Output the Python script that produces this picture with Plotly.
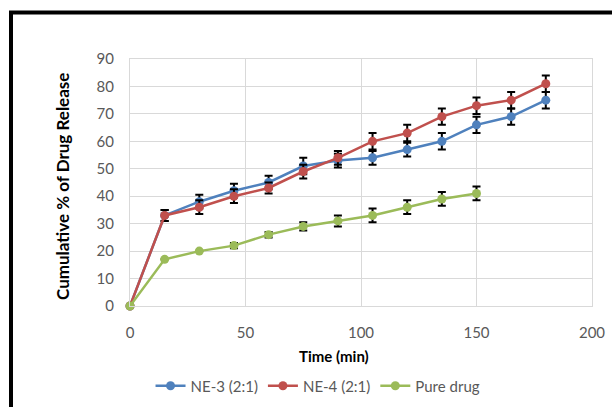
import plotly.graph_objects as go

time_ne = [0, 15, 30, 45, 60, 75, 90, 105, 120, 135, 150, 165, 180]
ne3 = [0, 33, 38, 42, 45, 51, 53, 54, 57, 60, 66, 69, 75]
ne3_err = [0, 2, 2.5, 2.5, 2.5, 3, 2.5, 2.5, 2.5, 3, 3, 3, 3]
ne4 = [0, 33, 36, 40, 43, 49, 54, 60, 63, 69, 73, 75, 81]
ne4_err = [0, 2, 2.5, 2.5, 2, 2.5, 2.5, 3, 3, 3, 3, 3, 3]
time_pure = [0, 15, 30, 45, 60, 75, 90, 105, 120, 135, 150]
pure = [0, 17, 20, 22, 26, 29, 31, 33, 36, 39, 41]
pure_err = [0, 0, 0, 1, 1, 1.5, 2, 2.5, 2.5, 2.5, 2.5]

names = ["NE-3 (2:1)", "NE-4 (2:1)", "Pure drug"]
colors = ["#4F81BD", "#C0504D", "#9BBB59"]

FONT = "Lato"
GRAY = "#595959"

fig = go.Figure()
for x, y, e, n, c in [(time_ne, ne3, ne3_err, names[0], colors[0]),
                      (time_ne, ne4, ne4_err, names[1], colors[1]),
                      (time_pure, pure, pure_err, names[2], colors[2])]:
    fig.add_trace(go.Scatter(
        x=x, y=y, name=n, mode="lines+markers",
        line=dict(color=c, width=2.5),
        marker=dict(color=c, size=9),
        error_y=dict(type="data", array=e, visible=True, color="black",
                     thickness=2, width=4),
        cliponaxis=False,
    ))

fig.update_layout(
    width=612, height=407,
    margin=dict(l=130, r=20, t=59, b=101, autoexpand=False),
    paper_bgcolor="white", plot_bgcolor="white",
    font=dict(family=FONT, size=15, color=GRAY),
    showlegend=True,
    legend=dict(orientation="h", x=0.407, xanchor="center", y=-0.324,
                yanchor="middle", font=dict(family=FONT, size=15, color=GRAY),
                bgcolor="rgba(0,0,0,0)", itemwidth=30),
    xaxis=dict(range=[0, 200], dtick=50, showgrid=True, gridcolor="#d9d9d9",
               gridwidth=1, showline=True, linecolor="#d9d9d9", linewidth=1,
               mirror=True, zeroline=False, ticks="outside", ticklen=13,
               tickcolor="rgba(0,0,0,0)", automargin=False,
               tickfont=dict(size=15, color=GRAY)),
    yaxis=dict(range=[0, 90], dtick=10, showgrid=True, gridcolor="#d9d9d9",
               gridwidth=1, showline=True, linecolor="#d9d9d9", linewidth=1,
               mirror=True, zeroline=False, ticks="outside", ticklen=12,
               tickcolor="rgba(0,0,0,0)", automargin=False,
               tickfont=dict(size=15, color=GRAY)),
    annotations=[
        dict(text="<b>Time (min)</b>", xref="paper", yref="paper",
             x=(334 - 130) / 462, y=(306 - 356) / 247, xanchor="center",
             yanchor="middle", showarrow=False,
             font=dict(family=FONT, size=15, color="black")),
        dict(text="<b>Cumulative % of Drug Release</b>", xref="paper",
             yref="paper", x=(62 - 130) / 462, y=(306 - 187) / 247,
             xanchor="center", yanchor="middle", textangle=-90,
             showarrow=False, font=dict(family=FONT, size=17, color="black")),
    ],
    shapes=[
        dict(type="rect", xref="paper", yref="paper",
             x0=(11 - 130) / 462, x1=(640 - 130) / 462,
             y0=(306 - 430) / 247, y1=(306 - 12.5) / 247,
             line=dict(color="black", width=4), fillcolor="rgba(0,0,0,0)",
             layer="below"),
    ],
)

fig.write_html("out.html")
